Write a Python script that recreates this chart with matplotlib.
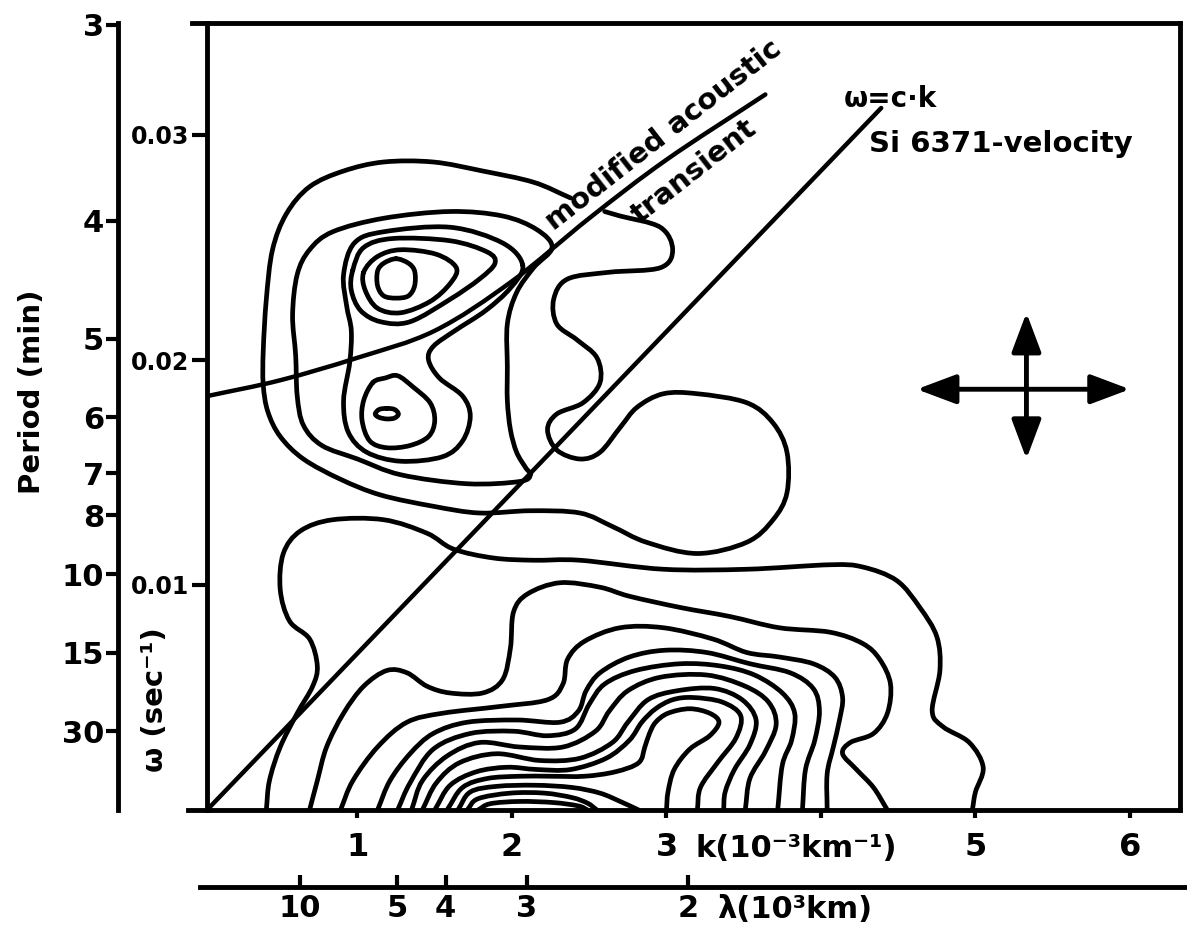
import numpy as np
import matplotlib
matplotlib.use('Agg')
import matplotlib.pyplot as plt
from matplotlib.path import Path
from matplotlib.patches import PathPatch

plt.rcParams['font.family'] = ['DejaVu Sans']
plt.rcParams['font.weight'] = 'bold'

# k in 10^-3 km^-1, omega in 10^-3 sec^-1

# upper power group
upper_outer_k = [2.38, 2.14, 1.81, 1.49, 1.17, 0.91, 0.69, 0.54, 0.45, 0.41, 0.39, 0.39, 0.42, 0.50,
                 0.65, 0.89, 1.15, 1.49, 1.79, 2.12, 2.44, 2.65, 2.87, 3.20, 3.52, 3.69, 3.78, 3.78,
                 3.69, 3.52, 3.20, 2.98, 2.81, 2.70, 2.57, 2.44, 2.29, 2.23, 2.29, 2.46, 2.57, 2.55,
                 2.42, 2.29, 2.27, 2.36, 2.63, 2.96, 3.04, 2.96, 2.70, 2.60]
upper_outer_w = [27.2, 27.9, 28.4, 28.8, 28.8, 28.4, 27.7, 26.5, 24.9, 22.7, 20.4, 18.9, 17.7, 16.6,
                 15.6, 14.7, 14.0, 13.5, 13.2, 13.3, 13.2, 12.6, 11.9, 11.4, 11.9, 12.9, 14.1, 15.9,
                 17.2, 18.1, 18.5, 18.5, 17.9, 17.0, 15.9, 15.6, 16.0, 16.9, 17.6, 18.1, 19.0, 20.1,
                 20.9, 21.6, 22.7, 23.6, 23.9, 24.1, 24.9, 25.9, 26.4, 26.6]

upper_second_k = [2.26, 2.14, 2.03, 1.97, 1.97, 1.97, 1.99, 2.03, 2.09, 2.12, 2.05, 1.71, 1.28,
                  1.00, 0.77, 0.65, 0.61, 0.60, 0.58, 0.61, 0.69, 0.84, 1.17, 1.60, 1.94, 2.16]
upper_second_w = [25.0, 24.1, 23.0, 21.6, 19.7, 18.2, 16.9, 15.9, 15.2, 14.9, 14.6, 14.5, 14.9,
                  15.6, 16.2, 17.1, 18.4, 20.2, 22.0, 23.8, 24.9, 25.7, 26.3, 26.6, 26.4, 25.8]

upper_third_k = [2.07, 1.94, 1.60, 1.17, 0.98, 0.91, 0.93, 0.96, 0.95, 0.91, 0.94, 1.06, 1.28,
                 1.55, 1.68, 1.73, 1.68, 1.53, 1.46, 1.49, 1.63, 1.83, 1.99]
upper_third_w = [24.2, 25.2, 25.9, 25.7, 25.2, 23.8, 22.4, 21.3, 19.9, 18.2, 16.8, 15.9, 15.5,
                 15.7, 16.4, 17.5, 18.4, 19.2, 20.0, 20.6, 21.3, 22.2, 23.2]

peak_a3_k = [0.97, 1.04, 1.23, 1.60, 1.84, 1.89, 1.79, 1.60, 1.34, 1.15, 1.02, 0.96]
peak_a3_w = [24.0, 25.0, 25.4, 25.3, 24.8, 24.3, 23.6, 22.7, 21.7, 21.7, 22.2, 23.1]
peak_a2_k = [1.04, 1.13, 1.28, 1.51, 1.64, 1.60, 1.47, 1.28, 1.13, 1.05]
peak_a2_w = [23.9, 24.6, 24.9, 24.7, 24.1, 23.4, 22.6, 22.1, 22.3, 23.1]
peak_a1_k = [1.25, 1.33, 1.37, 1.37, 1.33, 1.25, 1.17, 1.13, 1.13, 1.17]
peak_a1_w = [24.5, 24.3, 23.95, 23.3, 22.85, 22.75, 22.85, 23.3, 23.95, 24.3]

peak_b2_k = [1.10, 1.18, 1.26, 1.36, 1.47, 1.50, 1.46, 1.34, 1.19, 1.08, 1.03, 1.04]
peak_b2_w = [19.0, 19.2, 19.3, 18.8, 18.1, 17.3, 16.6, 16.2, 16.1, 16.4, 17.3, 18.2]
peak_b1_k = [1.19, 1.24, 1.265, 1.24, 1.19, 1.14, 1.115, 1.14]
peak_b1_w = [17.85, 17.8, 17.6, 17.42, 17.38, 17.45, 17.6, 17.8]

# lower power group (open contours ending on the k axis)
band_1_k = [0.41, 0.43, 0.50, 0.61, 0.71, 0.74, 0.69, 0.56, 0.50, 0.52, 0.63, 0.84, 1.17, 1.45, 1.62,
            1.88, 2.14, 2.44, 2.98, 3.52, 4.06, 4.27, 4.49, 4.64, 4.75, 4.77, 4.72, 4.79, 4.96, 5.05,
            5.00, 4.98]
band_1_w = [0.0, 1.3, 2.8, 4.3, 5.5, 6.4, 7.6, 8.4, 9.8, 11.4, 12.4, 12.9, 12.9, 12.3, 11.6,
            11.2, 11.1, 11.1, 10.7, 10.7, 10.9, 10.8, 10.2, 9.0, 7.7, 6.2, 4.4, 3.7, 3.0, 1.9,
            0.8, 0.0]
band_2_k = [0.69, 0.74, 0.80, 0.91, 1.04, 1.19, 1.32, 1.45, 1.60, 1.81, 1.94, 1.99, 2.01, 2.10, 2.31,
            2.57, 2.76, 3.09, 3.41, 3.73, 4.06, 4.27, 4.38, 4.45, 4.43, 4.34, 4.19, 4.14, 4.23, 4.34,
            4.43]
band_2_w = [0.0, 1.3, 2.8, 4.3, 5.5, 6.2, 6.1, 5.5, 5.2, 5.2, 5.8, 7.2, 8.8, 9.6, 10.1,
            9.9, 9.5, 9.0, 8.6, 8.1, 7.9, 7.4, 6.7, 5.6, 4.3, 3.4, 3.0, 2.5, 1.8, 1.0, 0.0]
band_3_k = [0.89, 0.97, 1.13, 1.32, 1.55, 1.92, 2.23, 2.33, 2.36, 2.47, 2.70, 2.98, 3.30, 3.52, 3.73,
            3.95, 4.09, 4.14, 4.12, 4.08, 4.04, 4.04]
band_3_w = [0.0, 1.3, 2.8, 3.9, 4.3, 4.6, 4.9, 5.6, 6.7, 7.5, 8.1, 8.1, 7.6, 7.0, 6.8,
            6.5, 5.9, 5.0, 4.0, 2.8, 1.6, 0.0]
band_4_k = [1.13, 1.21, 1.34, 1.49, 1.71, 2.03, 2.31, 2.43, 2.48, 2.57, 2.76, 2.99, 3.26, 3.54, 3.80,
            3.95, 3.99, 3.96, 3.90, 3.88]
band_4_w = [0.0, 1.3, 2.5, 3.4, 3.9, 4.0, 3.9, 4.4, 5.3, 6.1, 6.8, 7.1, 7.0, 6.5, 6.1,
            5.4, 4.4, 3.1, 1.8, 0.0]
band_5_k = [1.26, 1.34, 1.49, 1.73, 2.01, 2.23, 2.41, 2.50, 2.60, 2.80, 3.09, 3.35, 3.57, 3.75, 3.83,
            3.81, 3.75, 3.72]
band_5_w = [0.0, 1.2, 2.7, 3.4, 3.5, 3.3, 3.6, 4.7, 5.6, 6.2, 6.5, 6.4, 6.0, 5.2, 4.3,
            3.1, 2.0, 0.0]
band_6_k = [1.35, 1.42, 1.58, 1.79, 2.05, 2.33, 2.54, 2.63, 2.75, 2.96, 3.26, 3.51, 3.66, 3.71, 3.64,
            3.54, 3.51]
band_6_w = [0.0, 1.3, 2.4, 3.0, 2.8, 2.8, 3.5, 4.4, 5.3, 5.9, 6.0, 5.5, 4.8, 3.8, 2.6, 1.4, 0.0]
band_7_k = [1.42, 1.51, 1.66, 1.90, 2.18, 2.44, 2.65, 2.75, 2.88, 3.07, 3.31, 3.49, 3.58, 3.54, 3.44,
            3.38, 3.37]
band_7_w = [0.0, 1.2, 2.1, 2.5, 2.2, 2.3, 3.0, 3.9, 4.9, 5.3, 5.4, 4.9, 4.0, 2.9, 1.8, 0.8, 0.0]
band_8_k = [1.50, 1.60, 1.77, 1.97, 2.16, 2.38, 2.61, 2.76, 2.84, 2.93, 3.04, 3.17, 3.36, 3.48, 3.45,
            3.33, 3.22, 3.20]
band_8_w = [0.0, 1.1, 1.7, 1.9, 1.8, 1.8, 2.3, 3.1, 3.9, 4.5, 4.9, 5.0, 4.8, 4.2, 3.2, 2.1, 1.0, 0.0]
band_9_k = [1.58, 1.68, 1.84, 2.05, 2.25, 2.47, 2.67, 2.82, 2.86, 2.89, 2.93, 3.01, 3.15, 3.28, 3.34,
            3.28, 3.15, 3.05, 3.01, 3.00]
band_9_w = [0.0, 1.0, 1.4, 1.5, 1.5, 1.5, 1.7, 2.1, 2.8, 3.4, 3.9, 4.3, 4.5, 4.3, 3.9,
            3.3, 2.7, 1.8, 0.8, 0.0]
band_10_k = [1.65, 1.73, 1.90, 2.15, 2.39, 2.57, 2.71, 2.82]
band_10_w = [0.0, 0.8, 1.05, 1.1, 1.0, 0.75, 0.35, 0.0]
band_11_k = [1.71, 1.78, 1.99, 2.21, 2.39, 2.49, 2.55]
band_11_w = [0.0, 0.5, 0.75, 0.75, 0.55, 0.3, 0.0]
band_12_k = [1.78, 1.86, 2.05, 2.27, 2.43, 2.49]
band_12_w = [0.0, 0.28, 0.38, 0.33, 0.18, 0.0]

# dispersion lines
acoustic_k = [0.03, 0.5, 1.0, 1.5, 2.0, 2.5, 3.0, 3.64]
acoustic_w = [18.4, 19.1, 20.1, 21.3, 23.5, 26.3, 28.9, 31.8]
velocity_k = [0.026, 4.39]
velocity_w = [0.0, 31.2]

# axes annotations
omega_ticks = [10, 20, 30]
omega_labels = ['0.01', '0.02', '0.03']
period_min = [3, 4, 5, 6, 7, 8, 10, 15, 30]
k_ticks = [1, 2, 3, 4, 5, 6]
k_labels = ['1', '2', '3', '', '5', '6']
wavelength = [10, 5, 4, 3, 2]

# arrow cross (k, omega)
arrow_h_k = [4.62, 6.00]
arrow_h_w = 18.7
arrow_v_k = 5.33
arrow_v_w = [15.6, 22.1]


def smooth_path(k, w, closed=False):
    pts = np.column_stack([k, w]).astype(float)
    n = len(pts)
    if closed:
        tan = (np.roll(pts, -1, axis=0) - np.roll(pts, 1, axis=0)) / 2
        seq = list(range(n)) + [0]
    else:
        tan = np.empty_like(pts)
        tan[1:-1] = (pts[2:] - pts[:-2]) / 2
        tan[0] = pts[1] - pts[0]
        tan[-1] = pts[-1] - pts[-2]
        seq = list(range(n))
    verts = [pts[seq[0]]]
    codes = [Path.MOVETO]
    for a, b in zip(seq[:-1], seq[1:]):
        verts += [pts[a] + tan[a] / 3, pts[b] - tan[b] / 3, pts[b]]
        codes += [Path.CURVE4] * 3
    return Path(verts, codes)


contours = [
    (upper_outer_k, upper_outer_w, False),
    (upper_second_k, upper_second_w, True),
    (upper_third_k, upper_third_w, True),
    (peak_a3_k, peak_a3_w, True),
    (peak_a2_k, peak_a2_w, True),
    (peak_a1_k, peak_a1_w, True),
    (peak_b2_k, peak_b2_w, True),
    (peak_b1_k, peak_b1_w, True),
    (band_1_k, band_1_w, False), (band_2_k, band_2_w, False), (band_3_k, band_3_w, False),
    (band_4_k, band_4_w, False), (band_5_k, band_5_w, False), (band_6_k, band_6_w, False),
    (band_7_k, band_7_w, False), (band_8_k, band_8_w, False), (band_9_k, band_9_w, False),
    (band_10_k, band_10_w, False), (band_11_k, band_11_w, False), (band_12_k, band_12_w, False),
]

W, H = 1187, 936
fig = plt.figure(figsize=(W / 100, H / 100), dpi=100)
ax = fig.add_axes([207 / W, 126 / H, 973 / W, 787.5 / H])
ax.set_xlim(0.026, 6.324)
ax.set_ylim(0, 35)

lw = 3.4
for k, w, closed in contours:
    ax.add_patch(PathPatch(smooth_path(k, w, closed), fill=False, lw=lw, ec='black',
                           capstyle='round', joinstyle='round'))

ax.add_patch(PathPatch(smooth_path(acoustic_k, acoustic_w), fill=False, lw=3.2, ec='black',
                       capstyle='round'))
ax.plot(velocity_k, velocity_w, color='black', lw=3.2, solid_capstyle='round')

ax.text(2.98, 30.0, 'modified acoustic', rotation=38, rotation_mode='anchor',
        ha='center', va='center', fontsize=21, fontweight='bold')
ax.text(3.18, 28.4, 'transient', rotation=38, rotation_mode='anchor',
        ha='center', va='center', fontsize=21, fontweight='bold')
ax.text(4.15, 31.6, 'ω=c·k', ha='left', va='center', fontsize=20, fontweight='bold')
ax.text(4.31, 29.6, 'Si 6371-velocity', ha='left', va='center', fontsize=21, fontweight='bold')

arrow_style = dict(arrowstyle='<|-|>,head_length=0.8,head_width=0.3', lw=3.5, color='black',
                   mutation_scale=30, shrinkA=0, shrinkB=0)
ax.annotate('', xy=(arrow_h_k[1], arrow_h_w), xytext=(arrow_h_k[0], arrow_h_w), arrowprops=arrow_style)
ax.annotate('', xy=(arrow_v_k, arrow_v_w[1]), xytext=(arrow_v_k, arrow_v_w[0]), arrowprops=arrow_style)

# main axes frame and ticks
for s in ax.spines.values():
    s.set_linewidth(3.5)
ax.set_yticks(omega_ticks)
ax.set_yticklabels(omega_labels, fontsize=17, fontweight='bold')
ax.tick_params(axis='y', direction='out', length=11, width=3, pad=2)
ax.set_xticks(k_ticks)
ax.set_xticklabels(k_labels, fontsize=23, fontweight='bold')
ax.tick_params(axis='x', direction='out', length=6, width=3, pad=10)
ax.plot([-0.02, 0], [0, 0], transform=ax.transAxes, color='black', lw=3.5, clip_on=False)
ax.plot([-0.015, 0], [1, 1], transform=ax.transAxes, color='black', lw=3.5, clip_on=False)
ax.annotate('k(10⁻³km⁻¹)', xy=(3.84, 0), xycoords=ax.get_xaxis_transform(),
            xytext=(0, -27.5), textcoords='offset points', ha='center', va='center',
            fontsize=22, fontweight='bold', annotation_clip=False)

# period axis on the far left
ax2 = fig.add_axes([118 / W, 126 / H, 0.0001, 787.5 / H])
ax2.set_ylim(0, 35)
ax2.patch.set_visible(False)
for name in ['right', 'top', 'bottom']:
    ax2.spines[name].set_visible(False)
ax2.spines['left'].set_linewidth(3.5)
ax2.set_xticks([])
period_pos = [2 * np.pi / (60 * t) * 1000 for t in period_min]
ax2.set_yticks(period_pos)
ax2.set_yticklabels([str(t) for t in period_min], fontsize=22, fontweight='bold')
ax2.tick_params(axis='y', direction='out', length=9, width=3, pad=1)

# wavelength axis below
ax3 = fig.add_axes([200 / W, 49 / H, 985 / W, 0.0001])
ax3.set_xlim(-0.019, 6.356)
ax3.patch.set_visible(False)
for name in ['left', 'right', 'top']:
    ax3.spines[name].set_visible(False)
ax3.spines['bottom'].set_linewidth(3.5)
ax3.set_yticks([])
ax3.set_xticks([2 * np.pi / lam for lam in wavelength])
ax3.set_xticklabels([str(lam) for lam in wavelength], fontsize=22, fontweight='bold')
ax3.tick_params(axis='x', direction='in', length=9, width=3, pad=5)
ax3.annotate('λ(10³km)', xy=(3.83, 0), xycoords=ax3.get_xaxis_transform(),
             xytext=(0, -16.5), textcoords='offset points', ha='center', va='center',
             fontsize=22, fontweight='bold', annotation_clip=False)

fig.text(32 / W, 1 - 392 / H, 'Period (min)', rotation=90, ha='center', va='center',
         fontsize=21, fontweight='bold')
fig.text(155 / W, 1 - 700 / H, 'ω (sec⁻¹)', rotation=90, ha='center', va='center',
         fontsize=21, fontweight='bold')

fig.savefig('out.png', dpi=100)
